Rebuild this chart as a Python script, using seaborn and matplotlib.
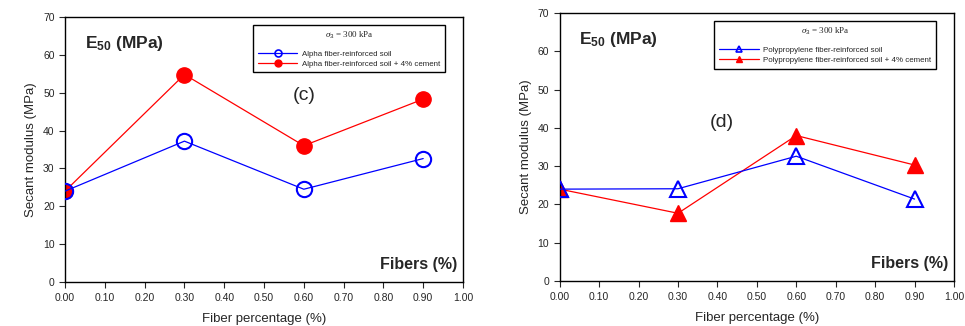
import matplotlib
matplotlib.use("Agg")
import matplotlib.pyplot as plt
import seaborn as sns
import pandas as pd
from matplotlib.lines import Line2D

# ---- data ----
fibers = [0.0, 0.3, 0.6, 0.9]
alpha_soil = [24.0, 37.2, 24.5, 32.6]
alpha_cement = [24.0, 54.8, 36.0, 48.3]
pp_soil = [24.0, 24.1, 32.6, 21.4]
pp_cement = [24.0, 17.7, 38.0, 30.3]

labels_c = ["Alpha fiber-reinforced soil", "Alpha fiber-reinforced soil + 4% cement"]
labels_d = ["Polypropylene fiber-reinforced soil", "Polypropylene fiber-reinforced soil + 4% cement"]
xticks = [0.0, 0.1, 0.2, 0.3, 0.4, 0.5, 0.6, 0.7, 0.8, 0.9, 1.0]
yticks = [0, 10, 20, 30, 40, 50, 60, 70]

sns.set_style("ticks")
plt.rcParams['font.family'] = ['Liberation Sans', 'DejaVu Sans']
plt.rcParams['mathtext.fontset'] = 'custom'
plt.rcParams['mathtext.rm'] = 'Liberation Sans'
plt.rcParams['mathtext.it'] = 'Liberation Serif:italic'
plt.rcParams['mathtext.bf'] = 'Liberation Sans:bold'

fig = plt.figure(figsize=(9.65, 3.26), dpi=100)
ax1 = fig.add_axes([0.0674, 0.135, 0.4124, 0.813])
ax2 = fig.add_axes([0.580, 0.138, 0.4086, 0.822])

def panel(ax, soil, cem, marker, labels, letter, letter_xy):
    df1 = pd.DataFrame({"x": fibers, "y": soil})
    df2 = pd.DataFrame({"x": fibers, "y": cem})
    ms = 11 if marker == 'o' else 11.5
    sns.lineplot(data=df1, x="x", y="y", ax=ax, color="blue", lw=0.9,
                 marker=marker, markersize=ms, markerfacecolor="none",
                 markeredgecolor="blue", markeredgewidth=1.5, zorder=3)
    sns.lineplot(data=df2, x="x", y="y", ax=ax, color="red", lw=0.9,
                 marker=marker, markersize=ms, markerfacecolor="red",
                 markeredgecolor="red", markeredgewidth=1.0, zorder=2)
    ax.set_xlim(0, 1.0)
    ax.set_ylim(0, 70)
    ax.set_xticks(xticks)
    ax.set_xticklabels([f"{t:.2f}" for t in xticks])
    ax.set_yticks(yticks)
    ax.tick_params(axis='both', labelsize=7.5, direction='out', length=4, width=0.8)
    ax.tick_params(axis='x', pad=4)
    for s in ax.spines.values():
        s.set_visible(True)
        s.set_linewidth(1.0)
        s.set_color("black")
    ax.set_xlabel("Fiber percentage (%)", fontsize=9.5, labelpad=7)
    ax.set_ylabel("Secant modulus (MPa)", fontsize=9.5)
    ax.text(0.05, 0.935, r"E$_{\mathbf{50}}$ (MPa)", transform=ax.transAxes,
            fontsize=12.5, fontweight='bold', va='top', ha='left')
    ax.text(letter_xy[0], letter_xy[1], letter, transform=ax.transAxes,
            fontsize=14, va='center', ha='center')
    ax.text(0.985, 0.065, "Fibers (%)", transform=ax.transAxes, fontsize=11.5,
            fontweight='bold', ha='right', va='center')
    h = [Line2D([], [], color='blue', lw=0.9, marker=marker, markersize=5,
                markerfacecolor='none', markeredgecolor='blue', markeredgewidth=1.2),
         Line2D([], [], color='red', lw=0.9, marker=marker, markersize=5,
                markerfacecolor='red', markeredgecolor='red')]
    leg = ax.legend(h, labels, loc='upper right', bbox_to_anchor=(0.965, 0.985),
                    fontsize=5.7, frameon=True, fancybox=False, edgecolor='black',
                    framealpha=1, handlelength=5.0, handletextpad=0.6,
                    borderpad=0.6, labelspacing=0.25,
                    title=r"$\sigma_3$ = 300 kPa",
                    title_fontproperties={'family': 'Liberation Serif', 'size': 6.5})
    leg.get_frame().set_linewidth(1.0)
    leg._legend_box.sep = 7

panel(ax1, alpha_soil, alpha_cement, 'o', labels_c, "(c)", (0.6, 0.705))
panel(ax2, pp_soil, pp_cement, '^', labels_d, "(d)", (0.412, 0.59))

fig.savefig("out.png", dpi=100)
